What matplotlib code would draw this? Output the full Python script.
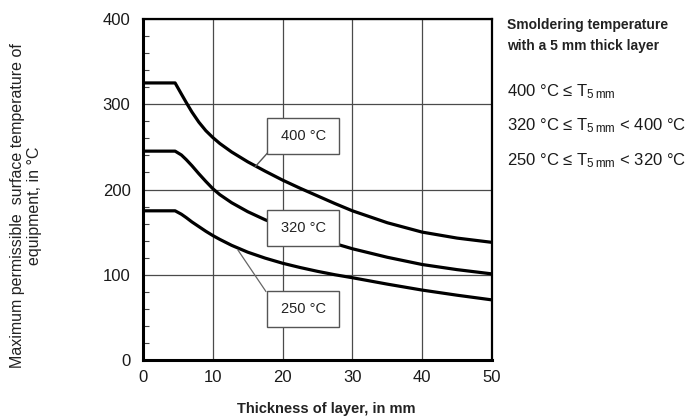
import matplotlib
matplotlib.use("Agg")
import matplotlib.pyplot as plt
from matplotlib.patches import Rectangle

plt.rcParams['font.family'] = ['Liberation Sans', 'DejaVu Sans']
plt.rcParams['mathtext.fontset'] = 'custom'
plt.rcParams['mathtext.rm'] = 'Liberation Sans'
plt.rcParams['mathtext.default'] = 'regular'

# ---- data ----
thickness = [0, 4.6, 5.5, 6.2, 7, 8, 9, 10, 11, 12.7, 15, 17.5, 20, 22.5, 25, 27.5,
             30, 35, 40, 45, 50]
temp_400 = [325, 325, 312, 302, 291, 279, 269, 261, 254, 244, 232.5, 221.5, 211, 201.5,
            192.5, 183.5, 175, 161, 150, 143, 138]
temp_320 = [245, 245, 240.5, 235, 228, 218.5, 209.5, 201, 194, 184.5, 174, 164.5, 156.5,
            149.5, 143, 136.5, 130.5, 120.5, 112, 106, 101]
temp_250 = [175, 175, 171, 167, 162, 156.5, 151, 146, 141.5, 134.5, 126.5, 119.5, 113.5,
            108.5, 104, 100, 96.5, 89, 82, 76, 70.5]
curve_labels = ['400 °C', '320 °C', '250 °C']
x_ticks = [0, 10, 20, 30, 40, 50]
y_ticks = [0, 100, 200, 300, 400]

fig = plt.figure(figsize=(6.92, 4.17), dpi=100)
ax = fig.add_axes([143/692, 1-360/417, 349/692, 341/417])

for series in (temp_400, temp_320, temp_250):
    ax.plot(thickness, series, color='black', lw=2.3, zorder=3, solid_capstyle='butt',
            solid_joinstyle='round')

ax.set_xlim(0, 50)
ax.set_ylim(0, 400)
ax.set_xticks(x_ticks)
ax.set_yticks(y_ticks)
ax.set_yticks(range(0, 401, 20), minor=True)
ax.grid(True, which='major', color='#4a4a4a', lw=0.9, zorder=1)
ax.tick_params(axis='both', which='major', length=0, labelsize=12, labelcolor='#1a1a1a')
ax.tick_params(axis='y', which='major', pad=9)
ax.tick_params(axis='x', which='major', pad=7)
ax.tick_params(axis='y', which='minor', direction='in', length=4, width=0.8, color='#444')
ax.tick_params(axis='x', which='minor', length=0)
for side, lw in (('left', 2.2), ('bottom', 2.2), ('top', 1.6), ('right', 1.6)):
    ax.spines[side].set_linewidth(lw)
    ax.spines[side].set_color('black')

# label boxes
box_w, box_h = 10.3, 42.5
boxes = [(17.8, 241.6), (17.8, 133.6), (17.8, 38.3)]
for (bx, by), lab in zip(boxes, curve_labels):
    ax.add_patch(Rectangle((bx, by), box_w, box_h, facecolor='white',
                           edgecolor='#555555', lw=1.0, zorder=5))
    ax.text(bx + box_w/2, by + box_h/2, lab, ha='center', va='center',
            fontsize=10.5, color='#222222', zorder=6)

# leader lines
ax.plot([17.8, 16.1], [242.5, 227], color='#555555', lw=1.0, zorder=4)
ax.plot([17.6, 13.6], [80.5, 129], color='#666666', lw=0.9, zorder=4)

# axis titles
fig.text(26/692, 1-206/417, 'Maximum permissible  surface temperature of\nequipment, in °C',
         rotation=90, ha='center', va='center', fontsize=11.5, color='#222222',
         multialignment='center', linespacing=1.2)
fig.text(326/692, 1-409/417, 'Thickness of layer, in mm', ha='center', va='center',
         fontsize=10.5, fontweight='bold', color='#222222')

# legend-like text on the right
xr = 507/692
fig.text(xr, 1-25/417, 'Smoldering temperature', ha='left', va='center',
         fontsize=10, fontweight='bold', color='#222222')
fig.text(xr, 1-46/417, 'with a 5 mm thick layer', ha='left', va='center',
         fontsize=10, fontweight='bold', color='#222222')
rows = ['400 °C ≤ T$_{5\\,mm}$',
        '320 °C ≤ T$_{5\\,mm}$ < 400 °C',
        '250 °C ≤ T$_{5\\,mm}$ < 320 °C']
for ypx, r in zip([92, 126, 161], rows):
    fig.text(xr, 1-ypx/417, r, ha='left', va='center', fontsize=12, color='#1a1a1a')

fig.savefig('out.png', dpi=100)
